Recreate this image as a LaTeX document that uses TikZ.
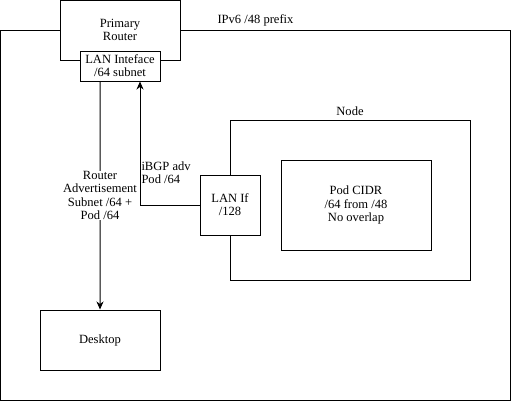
\documentclass[tikz,border=0pt]{standalone}
\usepackage{fontspec}
\setmainfont{Liberation Serif}
\usetikzlibrary{arrows.meta,positioning}
\tikzstyle{arrow} = [line width=1bp,->,>={Stealth[length=8bp,width=7bp,inset=2.5bp]}]
\tikzstyle{box} = [rectangle, draw, fill=white, line width=1bp, text centered, align=center, inner sep=0pt]
\tikzstyle{edgetext} = [fill=white, inner sep=1bp]

\begin{document}
\begin{tikzpicture}[x=1bp, y=-1bp, font=\fontsize{12.6}{13.2}\selectfont]
\useasboundingbox (0,0) rectangle (511,401);
% IPv6 prefix area
\node (prefix) [box, minimum width=509bp, minimum height=370bp, label=above:{IPv6 /48 prefix}] at (255.5,215) {};
% Router
\node (router) [box, minimum width=120bp, minimum height=60bp] at (120,30) {Primary\\Router};
\node (lanint) [box, minimum width=80bp, minimum height=30bp, below=-10bp of router] {LAN Inteface\\/64 subnet};
% Kubernetes node
\node (k8snode) [box, minimum width=240bp, minimum height=160bp, label=above:Node] at (350,200) {};
\node (lanif) [box, minimum width=60bp, minimum height=60bp] at (230,205) {LAN If\\/128};
\node (podcidr) [box, minimum width=150bp, minimum height=90bp, right=20bp of lanif] {Pod CIDR\\/64 from /48\\No overlap};
% Desktop
\node (desktop) [box, minimum width=120bp, minimum height=60bp] at (100,340) {Desktop};

\draw[arrow] ([xshift=-20bp]lanint.south) -- node[edgetext, align=center] {Router\\Advertisement\\Subnet /64 +\\Pod /64} (desktop.north);
\draw[arrow] (lanif.west) -| node[pos=0.63, right, inner sep=1bp, align=left] {iBGP adv\\Pod /64} ([xshift=20bp]lanint.south);
\end{tikzpicture}
\end{document}
